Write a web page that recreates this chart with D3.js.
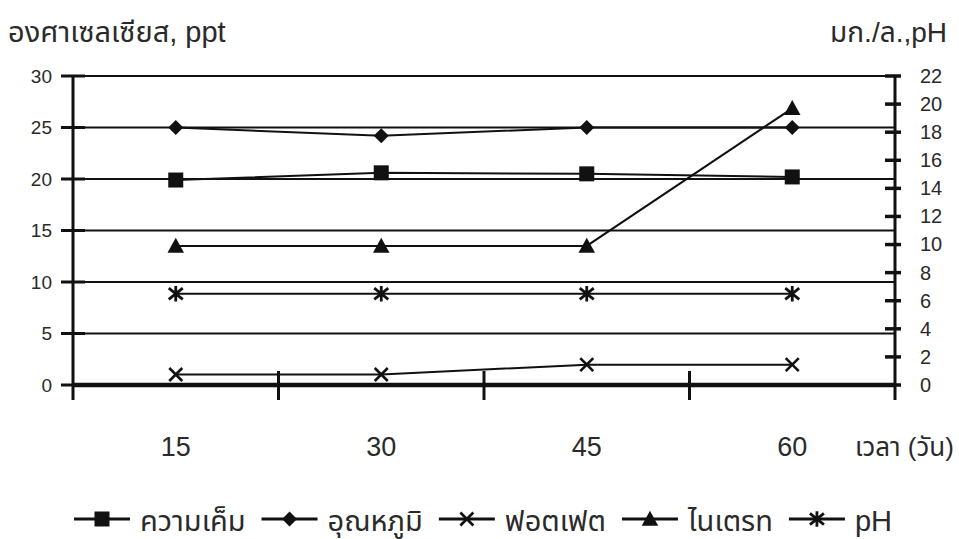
<!DOCTYPE html>
<html><head><meta charset="utf-8">
<script src="https://cdn.jsdelivr.net/npm/d3@7/dist/d3.min.js"></script>
<style>body{margin:0;background:#fff}svg{display:block}text{font-family:"Liberation Sans",Arial,"Noto Sans Thai","Noto Sans",sans-serif;fill:#2a2a2a}</style>
</head><body><svg id="c" width="959" height="539"></svg>
<script>
const categories = ["15","30","45","60"];
const salinity   = [19.9, 20.6, 20.5, 20.2];   // left axis
const temperature= [25.0, 24.2, 25.0, 25.0];   // left axis
const phosphate  = [0.75, 0.75, 1.45, 1.45];   // right axis
const nitrate    = [9.9, 9.9, 9.9, 19.7];      // right axis
const ph         = [6.5, 6.5, 6.5, 6.5];       // right axis
const leftTicks  = [0,5,10,15,20,25,30];
const rightTicks = [0,2,4,6,8,10,12,14,16,18,20,22];
const seriesNames= ["ความเค็ม","อุณหภูมิ","ฟอตเฟต","ไนเตรท","pH"];
const leftTitle  = "องศาเซลเซียส, ppt";
const rightTitle = "มก./ล.,pH";
const xTitle     = "เวลา (วัน)";

const svg = d3.select("#c");
const L = 73, R = 895, T = 76, B = 385;
const x = d3.scaleBand().domain(categories).range([L, R]);
const yL = d3.scaleLinear().domain([0,30]).range([B, T]);
const yR = d3.scaleLinear().domain([0,22]).range([B, T]);
const ink = "#111";

// gridlines
svg.append("g").selectAll("line").data(leftTicks.filter(d=>d>0)).join("line")
  .attr("x1", L).attr("x2", R).attr("y1", d=>yL(d)).attr("y2", d=>yL(d))
  .attr("stroke", ink).attr("stroke-width", 1.8);

// left axis
const gl = svg.append("g").attr("transform", `translate(${L},0)`)
  .call(d3.axisLeft(yL).tickValues(leftTicks).tickSize(0).tickPadding(21));
gl.select(".domain").remove();
gl.selectAll("text").style("font-size","19px").attr("fill", "#2a2a2a");
svg.append("g").selectAll("line").data(leftTicks).join("line")
  .attr("x1", L-12).attr("x2", L+12).attr("y1", d=>yL(d)).attr("y2", d=>yL(d))
  .attr("stroke", ink).attr("stroke-width", 3);
svg.append("line").attr("x1", L).attr("x2", L).attr("y1", T).attr("y2", B+15)
  .attr("stroke", ink).attr("stroke-width", 3);

// right axis
const gr = svg.append("g").attr("transform", `translate(${R},0)`)
  .call(d3.axisRight(yR).tickValues(rightTicks).tickSize(0).tickPadding(25));
gr.select(".domain").remove();
gr.selectAll("text").style("font-size","20px").attr("fill", "#2a2a2a");
svg.append("g").selectAll("line").data(rightTicks).join("line")
  .attr("x1", R-10).attr("x2", R+6).attr("y1", d=>yR(d)).attr("y2", d=>yR(d))
  .attr("stroke", ink).attr("stroke-width", 3.5);
svg.append("line").attr("x1", R).attr("x2", R).attr("y1", T).attr("y2", B+15)
  .attr("stroke", ink).attr("stroke-width", 3);

// bottom axis
svg.append("line").attr("x1", L).attr("x2", R).attr("y1", B).attr("y2", B)
  .attr("stroke", ink).attr("stroke-width", 4.5);
const bounds = categories.slice(1).map(c => x(c));
svg.append("g").selectAll("line").data(bounds).join("line")
  .attr("x1", d=>d).attr("x2", d=>d).attr("y1", B-14).attr("y2", B+15)
  .attr("stroke", ink).attr("stroke-width", 3);
const gx = svg.append("g").attr("transform", `translate(0,${B})`)
  .call(d3.axisBottom(x).tickSize(0).tickPadding(52));
gx.select(".domain").remove();
gx.selectAll("text").style("font-size","27px").attr("fill", "#2a2a2a");

// titles
svg.append("text").attr("x", 8).attr("y", 42).style("font-size","29px").text(leftTitle);
svg.append("text").attr("x", 947).attr("y", 42).attr("text-anchor","end").style("font-size","28px").text(rightTitle);
svg.append("text").attr("x", 855).attr("y", 456).style("font-size","26px").text(xTitle);

// markers
function marker(g, type, s) {
  if (type === "square") g.append("rect").attr("x",-s/2).attr("y",-s/2).attr("width",s).attr("height",s).attr("fill",ink);
  else if (type === "diamond") g.append("path").attr("d", `M0,${-s/2}L${s/2},0L0,${s/2}L${-s/2},0Z`).attr("fill",ink);
  else if (type === "triangle") g.append("path").attr("d", `M0,${-s*0.55}L${s*0.55},${s*0.45}L${-s*0.55},${s*0.45}Z`).attr("fill",ink);
  else if (type === "x") { const h=s/2; g.append("path").attr("d",`M${-h},${-h}L${h},${h}M${-h},${h}L${h},${-h}`).attr("stroke",ink).attr("stroke-width",2.6); }
  else if (type === "star") { const h=s/2; g.append("path").attr("d",`M${-h},${-h*0.8}L${h},${h*0.8}M${-h},${h*0.8}L${h},${-h*0.8}M0,${-h*1.1}V${h*1.1}`).attr("stroke",ink).attr("stroke-width",2.8); }
}
const series = [
  {v: salinity, y: yL, m: "square", s: 15},
  {v: temperature, y: yL, m: "diamond", s: 15},
  {v: phosphate, y: yR, m: "x", s: 13},
  {v: nitrate, y: yR, m: "triangle", s: 15},
  {v: ph, y: yR, m: "star", s: 14}
];
const cx = c => x(c) + x.bandwidth()/2;
series.forEach(sr => {
  const line = d3.line().x((d,i)=>cx(categories[i])).y(d=>sr.y(d));
  svg.append("path").attr("d", line(sr.v)).attr("fill","none").attr("stroke", ink).attr("stroke-width", 2);
  sr.v.forEach((d,i) => {
    const g = svg.append("g").attr("transform", `translate(${cx(categories[i])},${sr.y(d)})`);
    marker(g, sr.m, sr.s);
  });
});

// legend
let lx = 74; const ly = 519;
series.forEach((sr, i) => {
  svg.append("line").attr("x1", lx).attr("x2", lx+56).attr("y1", ly).attr("y2", ly).attr("stroke", ink).attr("stroke-width", 3);
  const g = svg.append("g").attr("transform", `translate(${lx+28},${ly})`);
  marker(g, sr.m, sr.s);
  const t = svg.append("text").attr("x", lx+66).attr("y", ly+12).style("font-size","29px").text(seriesNames[i]);
  lx += 66 + t.node().getComputedTextLength() + 16;
});
</script></body></html>
